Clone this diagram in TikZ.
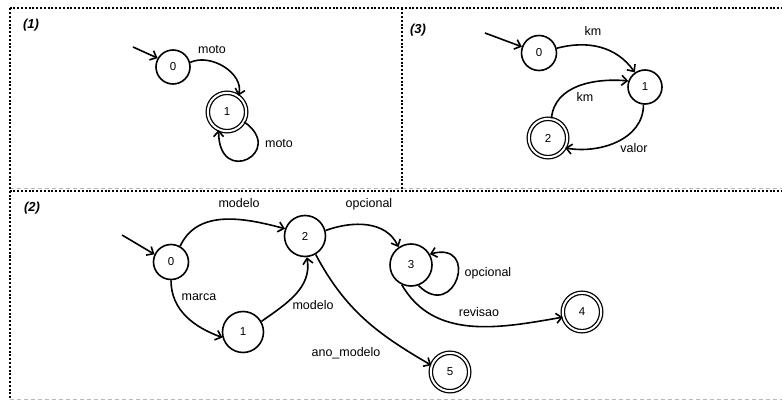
\documentclass[tikz,border=0pt]{standalone}
\usepackage{fontspec}
\setmainfont{Liberation Sans}
\usetikzlibrary{arrows.meta}
\begin{document}
\begin{tikzpicture}[x=1pt,y=1pt,
  st/.style={circle,draw,line width=1.6pt,inner sep=0pt,minimum size=#1,font=\fontsize{11.5}{12}\selectfont},
  st/.default=34pt,
  acc/.style={circle,draw,double,line width=1.3pt,double distance=2pt,inner sep=0pt,minimum size=38.4pt,font=\fontsize{11.5}{12}\selectfont},
  tr/.style={line width=1.6pt,-{Straight Barb[length=5.5pt,width=10pt]}},
  lbl/.style={font=\fontsize{12.5}{14}\selectfont,inner sep=0pt},
  ttl/.style={font=\fontsize{13}{15}\selectfont\bfseries\itshape,inner sep=0pt},
  dotln/.style={line width=2pt,dash pattern=on 2pt off 1.8pt},
  grayln/.style={line width=0.7pt,gray!55,dash pattern=on 4.5pt off 2.5pt}
]
\useasboundingbox (0,0) rectangle (782,-401);
\fill[white] (0,0) rectangle (782,-401);

% frames
\draw[grayln] (9.5,-188) -- (782,-188);
\draw[grayln] (9.5,-399.5) -- (782,-399.5);
\draw[dotln] (9.5,-8.5) -- (782,-8.5);
\draw[dotln] (9.5,-8.5) -- (9.5,-399.5);
\draw[dotln] (401.5,-8.5) -- (401.5,-190.5);
\draw[dotln] (9.5,-190.5) -- (782,-190.5);

% panel 1
\node[ttl] (t1) at (31,-25) {(1)};
\node[st] (a0) at (173,-67) {0};
\node[acc] (a1) at (227,-112) {1};
\coordinate (a0in) at (133,-47);
\draw[tr] (a0in) -- (a0.150);
\draw[tr] (a0.15) to[out=25,in=75] (a1.55);
\draw[tr] (a1.-30) .. controls +(-35:52) and +(-90:58) .. (a1.-115);
\node[lbl] (l1a) at (212,-50) {moto};
\node[lbl] (l1b) at (279,-144) {moto};

% panel 3
\node[ttl] (t3) at (418,-30) {(3)};
\node[st=35pt] (c0) at (539,-53) {0};
\node[st] (c1) at (645,-87) {1};
\node[acc] (c2) at (548,-138) {2};
\coordinate (c0in) at (485,-33);
\draw[tr] (c0in) -- (c0.160);
\draw[tr] (c0.15) to[out=15,in=125] (c1.125);
\draw[tr] (c2.80) to[out=85,in=175] (c1.160);
\draw[tr] (c1.-95) to[out=-90,in=-10] (c2.-30);
\node[lbl] (l3a) at (593,-31) {km};
\node[lbl] (l3b) at (585,-97) {km};
\node[lbl] (l3c) at (634,-148) {valor};

% panel 2
\node[ttl] (t2) at (32,-208) {(2)};
\node[st=35pt] (b0) at (171,-262) {0};
\node[st=41pt] (b1) at (243,-332) {1};
\node[st=41pt] (b2) at (305,-236) {2};
\node[st=42pt] (b3) at (411,-265) {3};
\node[acc] (b4) at (582,-312) {4};
\node[acc] (b5) at (450,-372) {5};
\coordinate (b0in) at (122,-235);
\draw[tr] (b0in) -- (b0.155);
\draw[tr] (b0.60) to[out=65,in=165] (b2.160);
\draw[tr] (b0.-90) to[out=-90,in=160] (b1.195);
\draw[tr] (b1.30) to[out=35,in=-80] (b2.-85);
\draw[tr] (b2.15) to[out=20,in=115] (b3.125);
\draw[tr] (b3.-70) .. controls +(-45:52) and +(15:52) .. (b3.30);
\draw[tr] (b3.-115) to[out=-60,in=190] (b4.195);
\draw[tr] (b2.-60) to[out=-62,in=150] (b5.160);
\node[lbl] (l2a) at (239,-203) {modelo};
\node[lbl] (l2b) at (199,-297) {marca};
\node[lbl] (l2c) at (313,-305) {modelo};
\node[lbl] (l2d) at (369,-204) {opcional};
\node[lbl] (l2e) at (488,-273) {opcional};
\node[lbl] (l2f) at (479,-312) {revisao};
\node[lbl] (l2g) at (346,-353) {ano\_modelo};
\end{tikzpicture}
\end{document}
